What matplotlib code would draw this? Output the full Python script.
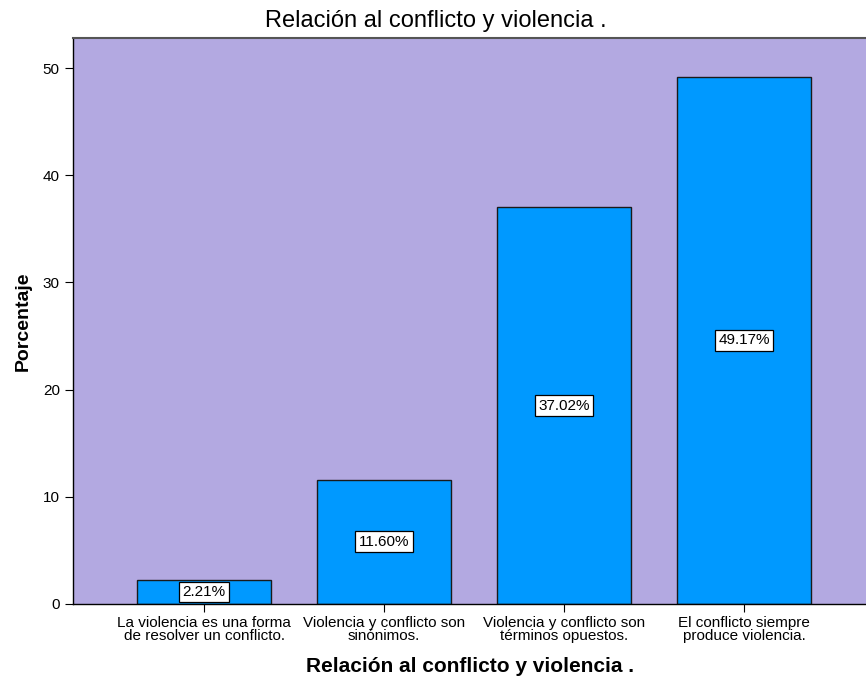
import matplotlib
matplotlib.use('Agg')
import matplotlib.pyplot as plt
import numpy as np

plt.rcParams['font.family'] = ['Liberation Sans', 'DejaVu Sans']

# data
categories = ['La violencia es una forma\nde resolver un conflicto.',
              'Violencia y conflicto son\nsinónimos.',
              'Violencia y conflicto son\ntérminos opuestos.',
              'El conflicto siempre\nproduce violencia.']
percent = [2.21, 11.60, 37.02, 49.17]
yticks = [0, 10, 20, 30, 40, 50]

fig = plt.figure(figsize=(8.66, 6.89), dpi=100)
ax = fig.add_axes([0.0843, 0.1234, 0.9157, 0.8214])
ax.set_facecolor('#B3A9E1')

x = np.arange(len(categories))
bars = ax.bar(x, percent, width=0.744, color='#0099FF', edgecolor='#1a1a1a', linewidth=1)

# value boxes in the middle of each bar
for xi, v in zip(x, percent):
    ax.text(xi, v / 2, '{:.2f}%'.format(v), ha='center', va='center', fontsize=11,
            bbox=dict(boxstyle='square,pad=0.22', facecolor='white', edgecolor='black', linewidth=0.9))

ax.set_xlim(-0.728, 3.678)
ax.set_ylim(0, 52.8)
ax.set_yticks(yticks)
ax.set_xticks(x)
ax.set_xticklabels(categories, fontsize=11, linespacing=0.85)
ax.tick_params(axis='both', direction='out', length=6, width=0.8, labelsize=11, colors='black')
ax.tick_params(axis='x', pad=3)

ax.spines['right'].set_visible(False)
ax.spines['top'].set_color('#555555')
ax.spines['top'].set_linewidth(1.5)
ax.spines['left'].set_linewidth(1.0)
ax.spines['bottom'].set_linewidth(1.0)

ax.set_ylabel('Porcentaje', fontsize=14, fontweight='bold', labelpad=8)
ax.set_xlabel('Relación al conflicto y violencia .', fontsize=15, fontweight='bold', labelpad=10)
fig.text(0.503, 0.969, 'Relación al conflicto y violencia .', fontsize=17,
         fontweight='medium', ha='center', va='center')

plt.savefig('out.png', dpi=100)
